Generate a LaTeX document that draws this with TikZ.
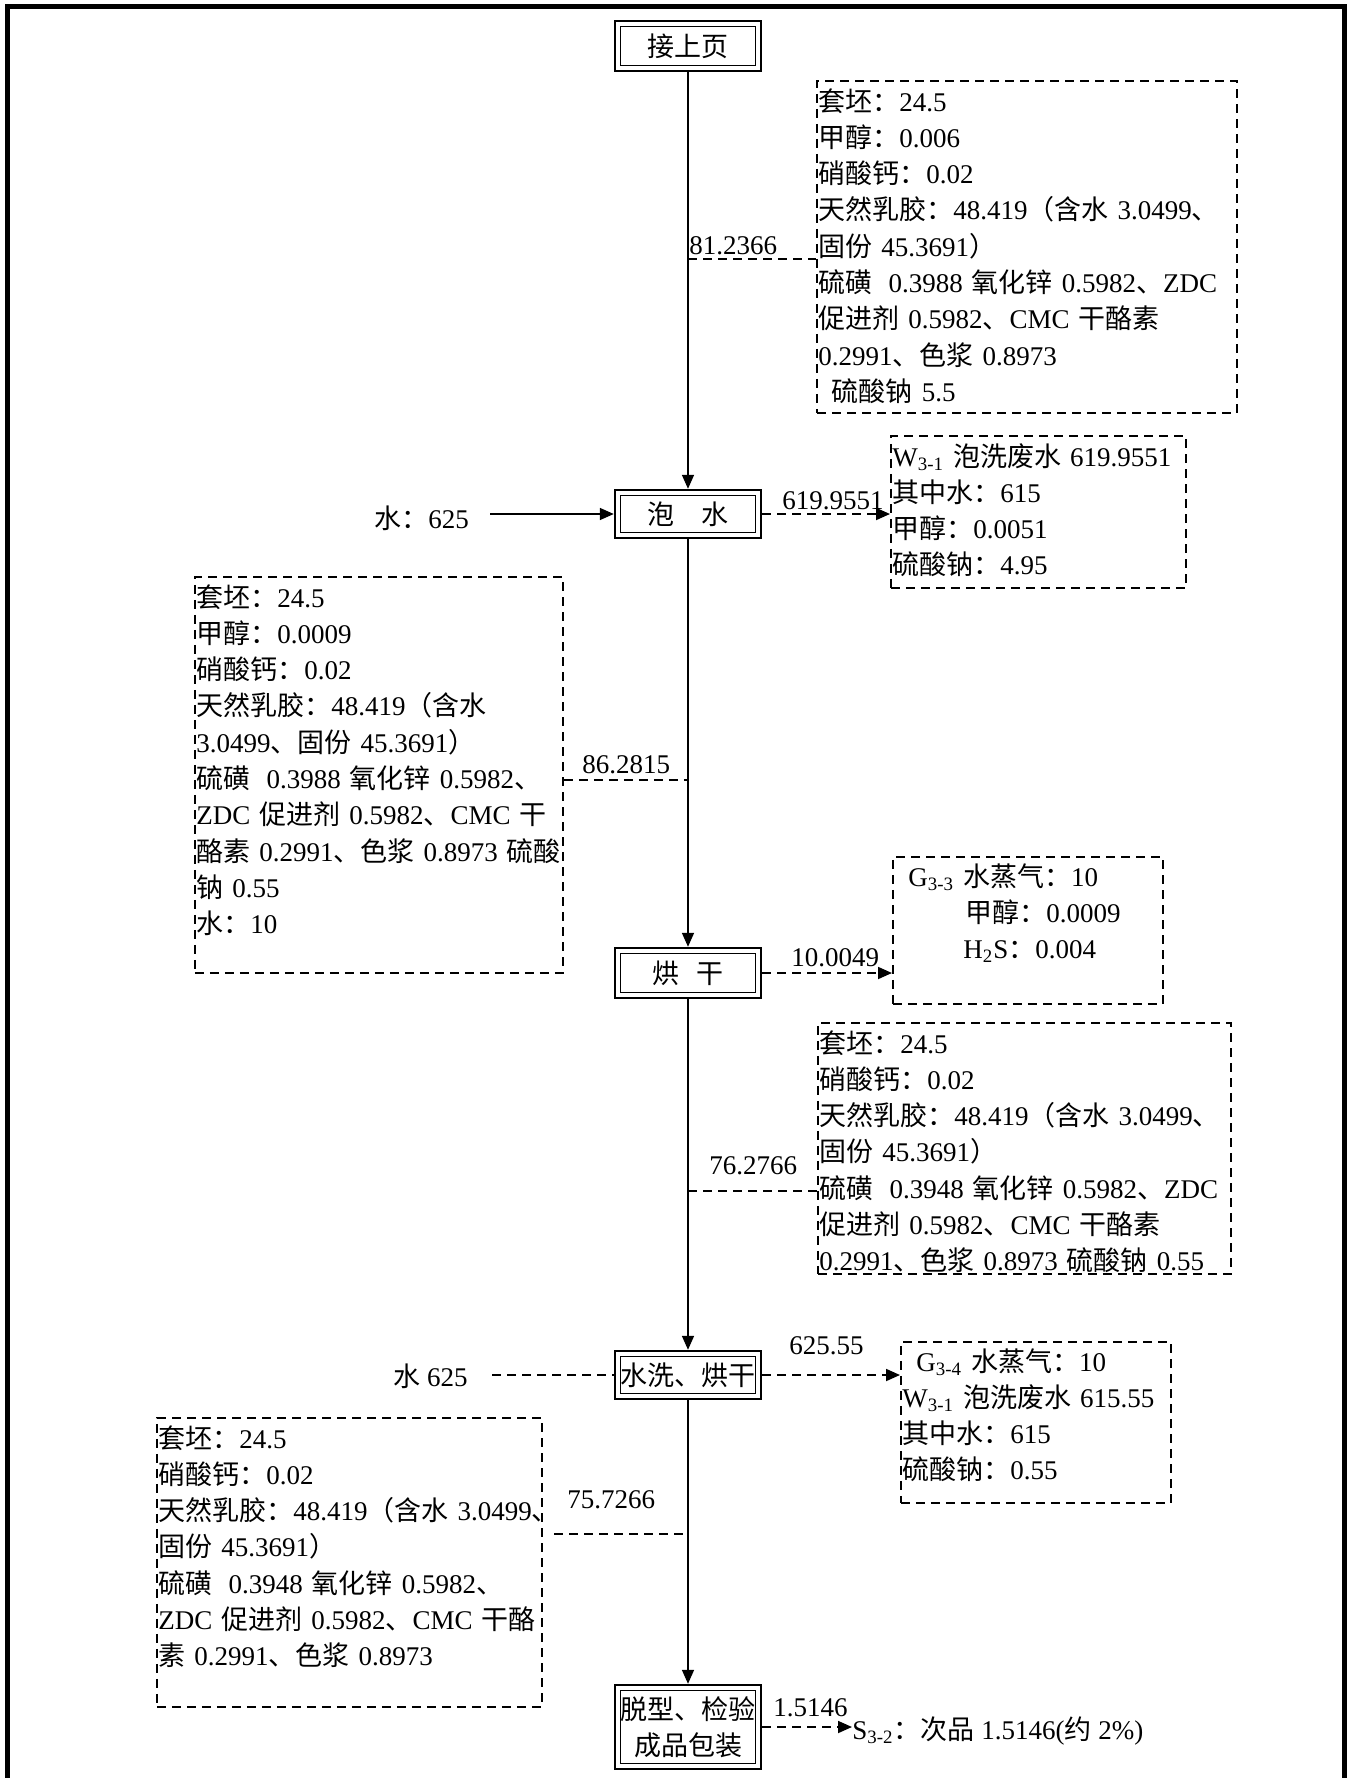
\documentclass[tikz,border=0pt]{standalone}
\usepackage{fontspec}
\usetikzlibrary{arrows.meta,calc}
\setmainfont{Liberation Serif}
\newfontfamily\cjkf{Noto Sans CJK SC}
\newfontfamily\latf{Liberation Serif}
\XeTeXinterchartokenstate=1
\newcount\mycnt
\mycnt="4E00
\loop
  \XeTeXcharclass\mycnt=10
  \ifnum\mycnt<"9FFF \advance\mycnt by 1
\repeat
\XeTeXcharclass"3001=10
\XeTeXcharclass"3000=10
\XeTeXcharclass"FF1A=10
\XeTeXcharclass"FF08=10
\XeTeXcharclass"FF09=10
\XeTeXinterchartoks 0 10={\cjkf}
\XeTeXinterchartoks 4095 10={\cjkf}
\XeTeXinterchartoks 10 0={\latf}
\XeTeXinterchartoks 10 4095={\latf}
\newcommand{\tfont}{\fontsize{13.5}{18.15}\selectfont}
\tikzset{
  proc/.style={draw, line width=1.2pt, minimum width=73pt, inner sep=0pt,
    align=center, font=\tfont,
    path picture={\draw[line width=0.6pt]
      ([shift={(2.8pt,-2.8pt)}]path picture bounding box.north west) rectangle
      ([shift={(-2.8pt,2.8pt)}]path picture bounding box.south east);}},
  dframe/.style={draw, dash pattern=on 4.5pt off 3pt, line width=0.9pt,
    inner sep=0pt, anchor=north west},
  btext/.style={anchor=base west, inner sep=0pt, text width=260pt,
    align=left, font=\tfont},
  lbl/.style={anchor=base west, inner sep=0pt, font=\tfont},
  sline/.style={line width=0.8pt},
  sarrow/.style={sline, -{Triangle[length=7pt,width=6pt]}},
  dline/.style={line width=0.9pt, dash pattern=on 4.5pt off 3pt},
  darrow/.style={dline, -{Triangle[length=7pt,width=6pt]}}
}
\begin{document}
\begin{tikzpicture}[x=0.5pt,y=-0.5pt]
\useasboundingbox (0,0) rectangle (1353,1778);
% outer frame
\draw[line width=2.5pt] (7.5,1800) -- (7.5,6.5) -- (1344.5,6.5) -- (1344.5,1800);

% process nodes
\node[proc, minimum height=25pt] (n1) at (688,46) {接上页};
\node[proc, minimum height=24pt] (n2) at (688,514) {泡\hspace{1em}水};
\node[proc, minimum height=25pt] (n3) at (688,973) {烘\hspace{0.6em}干};
\node[proc, minimum height=24pt] (n4) at (688,1375) {水洗、烘干};
\node[proc, minimum height=42pt] (n5) at (688,1727) {脱型、检验\\成品包装};

% dashed boxes
\node[dframe, minimum width=210pt, minimum height=166pt] (b1) at (816,80) {};
\node[dframe, minimum width=147.5pt, minimum height=76pt] (b2) at (890,435) {};
\node[dframe, minimum width=184pt, minimum height=198pt] (b3) at (194,576) {};
\node[dframe, minimum width=135pt, minimum height=73.5pt] (b4) at (892,856) {};
\node[dframe, minimum width=206.5pt, minimum height=125.5pt] (b5) at (817,1022) {};
\node[dframe, minimum width=135pt, minimum height=80.5pt] (b6) at (900,1341) {};
\node[dframe, minimum width=192.5pt, minimum height=144.5pt] (b7) at (156,1417) {};

% box texts
\node[btext] (t1) at ([xshift=1pt,yshift=-15.5pt]b1.north west) {套坯：24.5\\
甲醇：0.006\\
硝酸钙：0.02\\
天然乳胶：48.419（含水 3.0499、\\
固份 45.3691）\\
硫磺\hspace{0.6em}0.3988 氧化锌 0.5982、ZDC\\
促进剂 0.5982、CMC 干酪素\\
0.2991、色浆 0.8973\\
\hspace*{0.5em}硫酸钠 5.5};

\node[btext] (t2) at ([xshift=1pt,yshift=-15.5pt]b2.north west) {W\textsubscript{3-1} 泡洗废水 619.9551\\
其中水：615\\
甲醇：0.0051\\
硫酸钠：4.95};

\node[btext] (t3) at ([xshift=1pt,yshift=-15.5pt]b3.north west) {套坯：24.5\\
甲醇：0.0009\\
硝酸钙：0.02\\
天然乳胶：48.419（含水\\
3.0499、固份 45.3691）\\
硫磺\hspace{0.6em}0.3988 氧化锌 0.5982、\\
ZDC 促进剂 0.5982、CMC 干\\
酪素 0.2991、色浆 0.8973 硫酸\\
钠 0.55\\
水：10};

\node[btext] (t4) at ([xshift=1pt,yshift=-15pt]b4.north west) {\hspace*{7pt}G\textsubscript{3-3} 水蒸气：10\\
\hspace*{35.5pt}甲醇：0.0009\\
\hspace*{34.5pt}H\textsubscript{2}S：0.004};

\node[btext] (t5) at ([xshift=1pt,yshift=-15.5pt]b5.north west) {套坯：24.5\\
硝酸钙：0.02\\
天然乳胶：48.419（含水 3.0499、\\
固份 45.3691）\\
硫磺\hspace{0.6em}0.3948 氧化锌 0.5982、ZDC\\
促进剂 0.5982、CMC 干酪素\\
0.2991、色浆 0.8973 硫酸钠 0.55};

\node[btext] (t6) at ([xshift=1pt,yshift=-15pt]b6.north west) {\hspace*{7pt}G\textsubscript{3-4} 水蒸气：10\\
W\textsubscript{3-1} 泡洗废水 615.55\\
其中水：615\\
硫酸钠：0.55};

\node[btext] (t7) at ([xshift=1pt,yshift=-15.5pt]b7.north west) {套坯：24.5\\
硝酸钙：0.02\\
天然乳胶：48.419（含水 3.0499、\\
固份 45.3691）\\
硫磺\hspace{0.6em}0.3948 氧化锌 0.5982、\\
ZDC 促进剂 0.5982、CMC 干酪\\
素 0.2991、色浆 0.8973};

% labels
\node[lbl] (l1) at (689,254) {81.2366};
\node[lbl] (l2) at (782,509) {619.9551};
\node[lbl] (w1) at (374,528) {水：625};
\node[lbl] (l3) at (582,773) {86.2815};
\node[lbl] (l4) at (791,966) {10.0049};
\node[lbl] (l5) at (709,1174) {76.2766};
\node[lbl] (w2) at (393,1386) {水 625};
\node[lbl] (l6) at (789,1354) {625.55};
\node[lbl] (l7) at (567,1508) {75.7266};
\node[lbl] (l8) at (773,1716) {1.5146};
\node[lbl] (s32) at (852,1739) {S\textsubscript{3-2}：次品 1.5146(约 2\%)};

% junction coordinates
\coordinate (j1) at (688,259);
\coordinate (j2) at (688,780);
\coordinate (j3) at (688,1191);
\coordinate (j4) at (688,1534);
\coordinate (j4s) at (554,1534);
\coordinate (w1s) at (490,514);
\coordinate (w2s) at (492,1375);

% main flow
\draw[sarrow] (n1.south) -- (n2.north);
\draw[sarrow] (n2.south) -- (n3.north);
\draw[sarrow] (n3.south) -- (n4.north);
\draw[sarrow] (n4.south) -- (n5.north);

% side connectors
\draw[dline] (j1) -- (j1 -| b1.west);
\draw[dline] (b3.east |- j2) -- (j2);
\draw[dline] (j3) -- (j3 -| b5.west);
\draw[dline] (j4s) -- (j4);
\draw[sarrow] (w1s) -- (n2.west);
\draw[dline] (w2s) -- (n4.west);
\draw[darrow] (n2.east) -- (n2.east -| b2.west);
\draw[darrow] (n3.east) -- (n3.east -| b4.west);
\draw[darrow] (n4.east) -- (n4.east -| b6.west);
\draw[darrow] (n5.east) -- (n5.east -| s32.west);
\end{tikzpicture}
\end{document}
